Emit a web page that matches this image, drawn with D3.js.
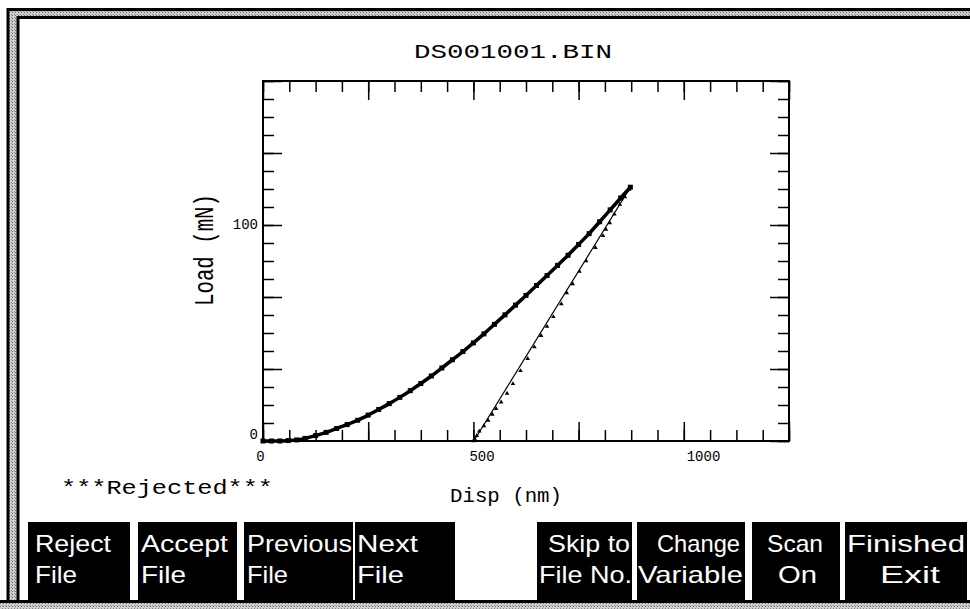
<!DOCTYPE html>
<html>
<head>
<meta charset="utf-8">
<script src="https://cdn.jsdelivr.net/npm/d3@7"></script>
<style>
  body { margin: 0; background: #fff; }
  svg { display: block; }
</style>
</head>
<body>
<div class="chart"></div>
<script>
// Loading curve: Disp (nm) / Load (mN)
var loadDisp  = [0, 20, 40, 60, 80, 100, 125, 150, 175, 200, 225, 250, 275, 300, 325, 350, 375, 400, 425,
                 450, 475, 500, 525, 550, 575, 600, 625, 650, 675, 700, 725, 750, 775, 800, 825, 850, 873];
var loadForce = [0, 0, 0, 0.2, 0.5, 1.2, 2.5, 4, 5.8, 7.6, 9.6, 12, 14.6, 17.3, 20.2, 23.3, 26.6, 30.1, 33.8,
                 37.6, 41.4, 45.4, 49.6, 54, 58.4, 62.9, 67.4, 72, 76.6, 81.3, 86, 91, 96, 101.5, 107, 112.5, 117.5];

// Unloading points
var unloadDisp  = [870, 860, 848, 835, 824, 815, 808, 790, 768, 752, 736, 722, 709, 690, 675, 661, 645, 629,
                   612, 594, 580, 566, 554, 545, 535, 525, 514, 508, 503, 500];
var unloadForce = [116.5, 113, 109.5, 105, 101, 98, 95, 89.5, 83.4, 78.5, 72.7, 68.5, 63.5, 57.5, 53, 48.8, 43.5, 38.1,
                   32.5, 26.5, 22, 18, 15, 12.3, 9.5, 7, 4.5, 2.5, 1, 0];

// Fitted unloading line
var fitDisp  = [501, 873];
var fitForce = [0, 117.5];

// Axis labels
var xTickLabels = [0, 500, 1000];
var yTickLabels = [0, 100];

var titleText = "DS001001.BIN";
var statusText = "***Rejected***";
var buttonLines = [["Reject", "File"], ["Accept", "File"], ["Previous", "File"], ["Next", "File"],
                   ["Skip to", "File No."], ["Change", "Variable"], ["Scan", "On"], ["Finished", "Exit"]];

var svgWidth = 970;
var svgHeight = 609;

var svg = d3.select(".chart")
  .append("svg")
  .attr("width", svgWidth)
  .attr("height", svgHeight);

// Screen frame (stippled grey band between two black lines)
var pat = svg.append("defs").append("pattern")
  .attr("id", "stip")
  .attr("width", 3).attr("height", 3)
  .attr("patternUnits", "userSpaceOnUse");
pat.append("rect").attr("width", 3).attr("height", 3).attr("fill", "#cfcfcf");
pat.append("rect").attr("width", 1).attr("height", 1).attr("fill", "#6a6a6a");
pat.append("rect").attr("x", 2).attr("y", 2).attr("width", 1).attr("height", 1).attr("fill", "#8a8a8a");

svg.append("rect").attr("x", 0).attr("y", 0).attr("width", svgWidth).attr("height", svgHeight)
  .attr("fill", "#fff");
svg.append("rect").attr("x", 0).attr("y", 603).attr("width", svgWidth).attr("height", 6)
  .attr("fill", "url(#stip)");
svg.append("rect").attr("x", 8).attr("y", 9.5).attr("width", svgWidth).attr("height", 592)
  .attr("fill", "url(#stip)").attr("stroke", "#000").attr("stroke-width", 3);
svg.append("rect").attr("x", 18).attr("y", 17.5).attr("width", svgWidth).attr("height", 584)
  .attr("fill", "#fff").attr("stroke", "#000").attr("stroke-width", 3);
svg.append("line").attr("x1", 0).attr("x2", svgWidth).attr("y1", 601.5).attr("y2", 601.5)
  .attr("stroke", "#000").attr("stroke-width", 3);

// Plot area
var plot = {left: 263, right: 789, top: 81, bottom: 441};

var x = d3.scaleLinear().domain([0, 1250]).range([plot.left, plot.right]);
var y = d3.scaleLinear().domain([0, 500 / 3]).range([plot.bottom, plot.top]);

var minorX = d3.range(0, 1250.01, 62.5);
var majorX = d3.range(0, 1250.01, 250);
var minorY = d3.range(0, 500 / 3 + 0.01, 25 / 3);
var majorY = d3.range(0, 500 / 3 + 0.01, 100 / 3);

function tickAxis(axisFn, scale, values, size, tx, ty) {
  var g = svg.append("g")
    .attr("transform", `translate(${tx}, ${ty})`)
    .call(axisFn(scale).tickValues(values).tickSize(-size).tickFormat(""));
  g.select(".domain").remove();
  g.selectAll("line").attr("stroke", "#000").attr("stroke-width", 1.5);
}

tickAxis(d3.axisBottom, x, minorX, 11, 0, plot.bottom);
tickAxis(d3.axisBottom, x, majorX, 19, 0, plot.bottom);
tickAxis(d3.axisTop, x, minorX, 11, 0, plot.top);
tickAxis(d3.axisTop, x, majorX, 19, 0, plot.top);
tickAxis(d3.axisLeft, y, minorY, 11, plot.left, 0);
tickAxis(d3.axisLeft, y, majorY, 19, plot.left, 0);
tickAxis(d3.axisRight, y, minorY, 11, plot.right, 0);
tickAxis(d3.axisRight, y, majorY, 19, plot.right, 0);

svg.append("rect")
  .attr("x", plot.left).attr("y", plot.top)
  .attr("width", plot.right - plot.left).attr("height", plot.bottom - plot.top)
  .attr("fill", "none").attr("stroke", "#000").attr("stroke-width", 2);

// Tick labels (the plotter puts them slightly off the tick marks)
var mono = "'Courier New', 'Liberation Mono', monospace";
var labelX = d3.scaleLinear().domain([0, 1000]).range([260, 703]);
var labelY = d3.scaleLinear().domain([0, 100]).range([438, 228]);

var gx = svg.append("g")
  .call(d3.axisBottom(labelX).tickValues(xTickLabels).tickSize(0).tickFormat(d3.format("d")));
gx.select(".domain").remove();
gx.selectAll("text")
  .attr("y", 461).attr("dy", 0)
  .style("font-family", mono).style("font-size", "14px").attr("fill", "#000");

var gy = svg.append("g")
  .call(d3.axisLeft(labelY).tickValues(yTickLabels).tickSize(0).tickFormat(d3.format("d")));
gy.select(".domain").remove();
gy.selectAll("text")
  .attr("x", 258).attr("dy", 0)
  .style("font-family", mono).style("font-size", "14px").attr("fill", "#000");

// Data: fitted line, unloading points, loading curve
var fitLine = d3.line().x(d => x(d[0])).y(d => y(d[1]));
svg.append("path")
  .datum(d3.zip(fitDisp, fitForce))
  .attr("d", fitLine)
  .attr("fill", "none").attr("stroke", "#000").attr("stroke-width", 1.2);

svg.append("g").selectAll("path")
  .data(d3.zip(unloadDisp, unloadForce))
  .enter()
  .append("path")
  .attr("transform", d => `translate(${x(d[0])}, ${y(d[1])})`)
  .attr("d", d3.symbol().type(d3.symbolTriangle).size(9))
  .attr("fill", "#000");

var loadData = d3.zip(loadDisp, loadForce);
svg.append("path")
  .datum(loadData)
  .attr("d", d3.line().x(d => x(d[0])).y(d => y(d[1])).curve(d3.curveMonotoneX))
  .attr("fill", "none").attr("stroke", "#000").attr("stroke-width", 3.5);

svg.append("g").selectAll("rect")
  .data(loadData)
  .enter()
  .append("rect")
  .attr("x", d => x(d[0]) - 2.5)
  .attr("y", d => y(d[1]) - 2.5)
  .attr("width", 5).attr("height", 5)
  .attr("fill", "#000");

// Titles
svg.append("text")
  .attr("x", 513).attr("y", 58)
  .attr("text-anchor", "middle")
  .attr("textLength", 198).attr("lengthAdjust", "spacingAndGlyphs")
  .style("font-family", mono).style("font-size", "21px")
  .text(titleText);

svg.append("text")
  .attr("transform", "translate(213, 250) scale(1.35, 1) rotate(-90)")
  .attr("text-anchor", "middle")
  .attr("textLength", 112).attr("lengthAdjust", "spacingAndGlyphs")
  .style("font-family", mono).style("font-size", "21px")
  .text("Load (mN)");

svg.append("text")
  .attr("x", 506).attr("y", 502)
  .attr("text-anchor", "middle")
  .attr("textLength", 112).attr("lengthAdjust", "spacingAndGlyphs")
  .style("font-family", mono).style("font-size", "20px")
  .text("Disp (nm)");

svg.append("text")
  .attr("x", 61).attr("y", 494)
  .attr("textLength", 212).attr("lengthAdjust", "spacingAndGlyphs")
  .style("font-family", mono).style("font-size", "21px")
  .text(statusText);

// Soft-key buttons: [left, right, line1 x, line1 width, line2 x, line2 width]
var buttonBoxes = [
  [28, 130, 35, 76, 35, 42],
  [138, 237, 141, 87, 141, 45],
  [244, 353, 247, 105, 247, 41],
  [355, 455, 357, 61, 357, 47],
  [537, 632, 548, 82, 539, 93],
  [637, 745, 657, 83, 638, 105],
  [752, 840, 767, 56, 778, 39],
  [845, 967, 847, 118, 880, 60]
];

var btn = svg.append("g").selectAll("g")
  .data(buttonLines)
  .enter()
  .append("g");

btn.append("rect")
  .attr("x", (d, i) => buttonBoxes[i][0])
  .attr("y", 522)
  .attr("width", (d, i) => buttonBoxes[i][1] - buttonBoxes[i][0])
  .attr("height", 78)
  .attr("fill", "#000");

btn.append("text")
  .attr("x", (d, i) => buttonBoxes[i][2])
  .attr("y", 552)
  .attr("textLength", (d, i) => buttonBoxes[i][3])
  .attr("lengthAdjust", "spacingAndGlyphs")
  .style("font-family", "Arial, 'Liberation Sans', sans-serif")
  .style("font-size", "24px")
  .attr("fill", "#fff")
  .text(d => d[0]);

btn.append("text")
  .attr("x", (d, i) => buttonBoxes[i][4])
  .attr("y", 583)
  .attr("textLength", (d, i) => buttonBoxes[i][5])
  .attr("lengthAdjust", "spacingAndGlyphs")
  .style("font-family", "Arial, 'Liberation Sans', sans-serif")
  .style("font-size", "24px")
  .attr("fill", "#fff")
  .text(d => d[1]);
</script>
</body>
</html>
